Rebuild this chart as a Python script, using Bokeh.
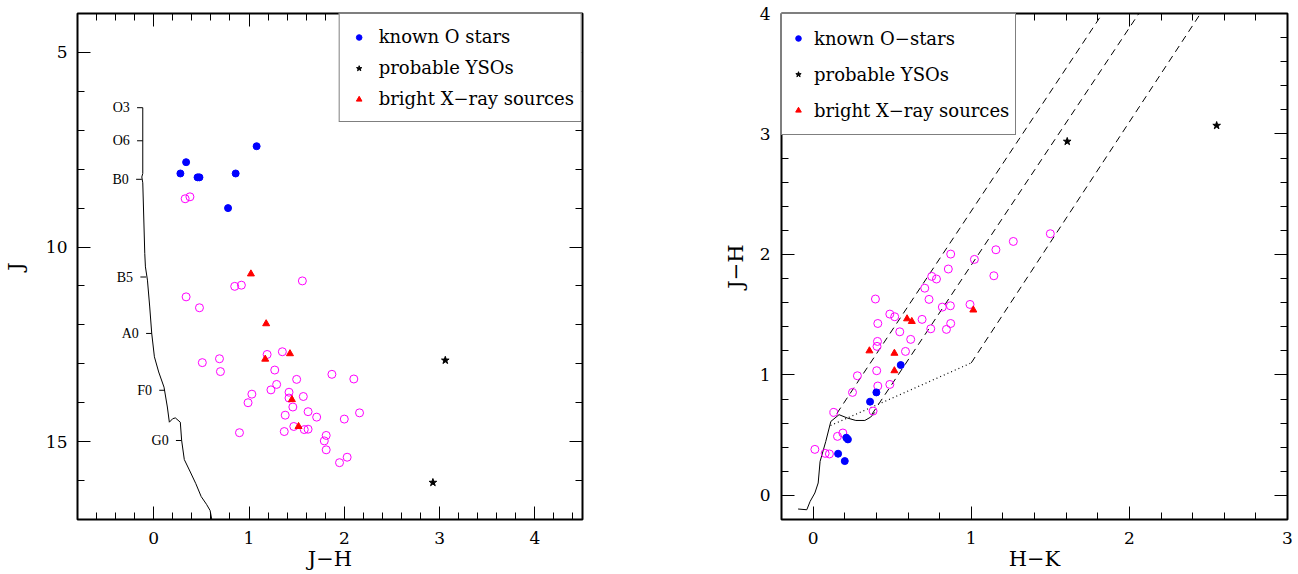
import numpy as np
from bokeh.plotting import figure
from bokeh.models import Range1d, FixedTicker, LinearAxis, Legend, LegendItem
from bokeh.layouts import row
from bokeh.embed import file_html
from bokeh.resources import INLINE

FONT = "DejaVu Serif"

# ---------------- left panel: J vs J-H ----------------
o_jh = [1.08, 0.34, 0.28, 0.46, 0.48, 0.86, 0.78]
o_J = [7.41, 7.82, 8.11, 8.21, 8.21, 8.11, 9.00]

xr_jh = [1.02, 1.18, 1.17, 1.43, 1.45, 1.52]
xr_J = [10.69, 11.97, 12.88, 12.74, 13.92, 14.61]

yso_jh = [3.06, 2.93]
yso_J = [12.91, 16.05]

mag_jh = [0.33, 0.38, 0.85, 0.92, 1.56, 0.34, 0.48, 0.51, 0.69, 0.70, 1.19, 1.35, 1.27,
          1.50, 1.29, 1.23, 1.03, 0.99, 1.42, 1.42, 1.57, 1.46, 1.62, 1.71, 1.38, 0.90,
          1.37, 1.47, 1.58, 1.62, 1.87, 2.10, 2.16, 2.00, 1.81, 1.79, 1.81, 2.03, 1.95]
mag_J = [8.76, 8.71, 11.01, 10.98, 10.87, 11.28, 11.56, 12.97, 12.87, 13.20, 12.76, 12.69, 13.16,
         13.40, 13.53, 13.67, 13.78, 14.00, 13.73, 13.88, 13.84, 14.11, 14.23, 14.37, 14.32, 14.77,
         14.74, 14.61, 14.69, 14.68, 13.27, 13.39, 14.26, 14.42, 14.84, 14.98, 15.21, 15.40, 15.54]

ms_jh = [-0.115, -0.115, -0.125, -0.115, -0.094, -0.087, -0.066, -0.042, -0.021, 0.007, 0.052,
         0.108, 0.143, 0.164, 0.199, 0.227, 0.279, 0.293, 0.321, 0.384, 0.442, 0.498, 0.554,
         0.592, 0.609]
ms_J = [6.42, 8.11, 8.20, 8.35, 10.17, 10.51, 10.85, 11.54, 12.22, 12.82, 13.21, 13.60, 14.11,
        14.50, 14.41, 14.39, 14.50, 14.97, 15.46, 15.78, 16.08, 16.41, 16.61, 16.77, 17.00]

sp_types = ["O3", "O6", "B0", "B5", "A0", "F0", "G0"]
sp_J = [6.42, 7.27, 8.26, 10.77, 12.22, 13.68, 14.97]
sp_jh = [-0.115, -0.115, -0.125, -0.08, -0.02, 0.118, 0.293]

left_xticks = [0, 1, 2, 3, 4]
left_xminor = list(np.round(np.arange(-0.8, 4.51, 0.2), 2))
left_yticks = [5, 10, 15]
left_yminor = list(range(4, 18))

# ---------------- right panel: J-H vs H-K ----------------
o_hk = [0.158, 0.20, 0.21, 0.22, 0.36, 0.40, 0.554]
o_jh2 = [0.346, 0.285, 0.479, 0.465, 0.778, 0.855, 1.082]

xr_hk = [0.356, 0.514, 0.514, 0.594, 0.624, 1.013]
xr_jh2 = [1.20, 1.18, 1.035, 1.466, 1.444, 1.539]

yso_hk = [1.607, 2.552]
yso_jh2 = [2.938, 3.07]

mag_hk = [0.87, 1.156, 1.266, 1.02, 0.855, 1.143, 0.75, 0.78, 0.706, 1.50, 0.394, 0.733, 0.817,
          0.868, 0.992, 0.485, 0.516, 0.409, 0.689, 0.87, 0.843, 0.744, 0.548, 0.407, 0.404,
          0.617, 0.584, 0.402, 0.28, 0.409, 0.485, 0.249, 0.379, 0.131, 0.154, 0.188, 0.011,
          0.076, 0.103]
mag_jh2 = [2.003, 2.039, 2.108, 1.959, 1.879, 1.823, 1.818, 1.796, 1.72, 2.172, 1.63, 1.627, 1.563,
           1.574, 1.585, 1.505, 1.483, 1.427, 1.461, 1.427, 1.378, 1.383, 1.358, 1.278, 1.237,
           1.295, 1.195, 1.035, 0.993, 0.908, 0.921, 0.855, 0.70, 0.689, 0.49, 0.518, 0.382,
           0.349, 0.344]

loc_hk = [-0.095, -0.04, -0.019, 0.011, 0.032, 0.044, 0.08, 0.112, 0.164, 0.217, 0.27, 0.327, 0.364, 0.39]
loc_jh = [-0.113, -0.119, -0.05, 0.02, 0.103, 0.282, 0.448, 0.614, 0.67, 0.642, 0.622, 0.622, 0.65, 0.689]

ctts_hk = [0.11, 1.0]
ctts_jh = [0.58, 1.10]

red_hk0 = [0.15, 0.37, 1.0]
red_jh0 = [0.68, 0.67, 1.10]
red_hk1 = [1.83, 2.06, 2.45]
red_jh1 = [4.0, 4.0, 4.0]

right_xticks = [0, 1, 2, 3]
right_xminor = list(np.round(np.arange(-0.2, 3.01, 0.2), 2))
right_yticks = [0, 1, 2, 3, 4]
right_yminor = list(np.round(np.arange(-0.2, 4.01, 0.2), 2))


def tick_style(ax):
    ax.axis_line_color = None
    ax.major_tick_in = 13
    ax.major_tick_out = 0
    ax.minor_tick_in = 7
    ax.minor_tick_out = 0
    ax.major_tick_line_color = "black"
    ax.minor_tick_line_color = "black"


def mirror(p, side, major, minor):
    # ticks only (no labels) on the opposite sides of the frame
    for ticks, length in ((minor, 7), (major, 13)):
        ax = LinearAxis(ticker=FixedTicker(ticks=[], minor_ticks=ticks))
        ax.axis_line_color = None
        ax.major_tick_line_color = None
        ax.minor_tick_in = length
        ax.minor_tick_out = 0
        ax.minor_tick_line_color = "black"
        ax.major_label_standoff = 0
        p.add_layout(ax, side)


def style(p, xt, xmin, yt, ymin, xlabel, ylabel):
    p.outline_line_color = "black"
    p.outline_line_width = 2
    p.xgrid.visible = False
    p.ygrid.visible = False
    p.xaxis[0].ticker = FixedTicker(ticks=xt, minor_ticks=xmin)
    p.yaxis[0].ticker = FixedTicker(ticks=yt, minor_ticks=ymin)
    for ax in (p.xaxis[0], p.yaxis[0]):
        tick_style(ax)
        ax.major_label_text_font = FONT
        ax.major_label_text_font_size = "17px"
        ax.major_label_text_color = "black"
        ax.axis_label_text_font = FONT
        ax.axis_label_text_font_size = "21px"
        ax.axis_label_text_font_style = "normal"
        ax.axis_label_text_color = "black"
    p.xaxis[0].axis_label = xlabel
    p.xaxis[0].major_label_standoff = 12
    p.xaxis[0].axis_label_standoff = 0
    p.yaxis[0].axis_label = ylabel
    p.yaxis[0].major_label_standoff = 10
    p.yaxis[0].axis_label_standoff = 15
    mirror(p, "above", xt, xmin)
    mirror(p, "right", yt, ymin)


# ---------------- left figure ----------------
p1 = figure(width=707, height=574, x_range=Range1d(-0.8, 4.5), y_range=Range1d(17, 4),
            output_backend="svg", toolbar_location=None,
            min_border_left=74, min_border_right=125, min_border_top=13, min_border_bottom=55)
style(p1, left_xticks, left_xminor, left_yticks, left_yminor, "J−H", "J")

p1.line(ms_jh, ms_J, line_color="black", line_width=1)
p1.segment(x0=[v - 0.06 for v in sp_jh], y0=sp_J, x1=sp_jh, y1=sp_J,
           line_color="black", line_width=1)
p1.text(x=sp_jh, y=sp_J, text=sp_types, x_offset=-13, text_align="right",
        text_baseline="middle", text_font=FONT, text_font_size="14px", text_color="black")

p1.scatter(mag_jh, mag_J, marker="circle", size=8, fill_color=None,
           line_color="#ff00ff", line_width=1)
r1o = p1.scatter(o_jh, o_J, marker="circle", size=7, fill_color="#0000ff", line_color="#0000ff")
r1x = p1.scatter(xr_jh, xr_J, marker="triangle", size=7, fill_color="#ff0000", line_color="#ff0000")
r1y = p1.scatter(yso_jh, yso_J, marker="star", size=8, fill_color="black", line_color="black")

leg1 = Legend(items=[LegendItem(label="known O stars", renderers=[r1o]),
                     LegendItem(label="probable YSOs", renderers=[r1y]),
                     LegendItem(label="bright X−ray sources", renderers=[r1x])],
              location="top_right", margin=0, padding=7, spacing=0,
              label_height=31, glyph_height=14, glyph_width=24, label_standoff=8,
              border_line_color="black", border_line_width=1,
              background_fill_color="white", background_fill_alpha=1,
              label_text_font=FONT, label_text_font_size="18px", label_text_color="black")
p1.add_layout(leg1)

# ---------------- right figure ----------------
p2 = figure(width=591, height=574, x_range=Range1d(-0.2, 3), y_range=Range1d(-0.2, 4),
            output_backend="svg", toolbar_location=None,
            min_border_left=74, min_border_right=11, min_border_top=13, min_border_bottom=55)
style(p2, right_xticks, right_xminor, right_yticks, right_yminor, "H−K", "J−H")
p2.yaxis[0].axis_label_standoff = 9
p2.yaxis[0].major_label_standoff = 11

p2.line(loc_hk, loc_jh, line_color="black", line_width=1)
p2.line(ctts_hk, ctts_jh, line_color="black", line_width=1.2, line_dash="1 3")
p2.segment(x0=red_hk0, y0=red_jh0, x1=red_hk1, y1=red_jh1,
           line_color="black", line_width=1, line_dash="7 5")

p2.scatter(mag_hk, mag_jh2, marker="circle", size=8, fill_color=None,
           line_color="#ff00ff", line_width=1)
r2o = p2.scatter(o_hk, o_jh2, marker="circle", size=7, fill_color="#0000ff", line_color="#0000ff")
r2x = p2.scatter(xr_hk, xr_jh2, marker="triangle", size=7, fill_color="#ff0000", line_color="#ff0000")
r2y = p2.scatter(yso_hk, yso_jh2, marker="star", size=8, fill_color="black", line_color="black")

leg2 = Legend(items=[LegendItem(label="known O−stars", renderers=[r2o]),
                     LegendItem(label="probable YSOs", renderers=[r2y]),
                     LegendItem(label="bright X−ray sources", renderers=[r2x])],
              location="top_left", margin=0, padding=6, spacing=0,
              label_height=36, glyph_height=14, glyph_width=20, label_standoff=6,
              border_line_color="black", border_line_width=1,
              background_fill_color="white", background_fill_alpha=1,
              label_text_font=FONT, label_text_font_size="18px", label_text_color="black")
p2.add_layout(leg2)

layout = row(p1, p2)
open("out.html", "w").write(file_html(layout, INLINE))
